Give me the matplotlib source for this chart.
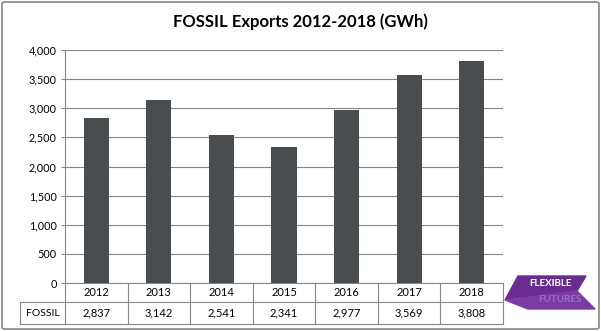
import numpy as np
import matplotlib
matplotlib.use("Agg")
import matplotlib.pyplot as plt
from matplotlib.patches import Polygon, FancyBboxPatch
import matplotlib.transforms as mtransforms

years = ['2012', '2013', '2014', '2015', '2016', '2017', '2018']
fossil = [2837, 3142, 2541, 2341, 2977, 3569, 3808]
series_name = 'FOSSIL'
yticks = [0, 500, 1000, 1500, 2000, 2500, 3000, 3500, 4000]

plt.rcParams['font.family'] = ['Lato', 'DejaVu Sans']

W, H = 601, 331
fig = plt.figure(figsize=(W / 100, H / 100), dpi=100)

# outer border
fig.patches.append(FancyBboxPatch((2 / W, 2 / H), 1 - 4 / W, 1 - 4 / H,
                                  boxstyle='round,pad=0,rounding_size=0.005',
                                  transform=fig.transFigure, fill=False,
                                  edgecolor='#868686', lw=1.2))

left, right, top, bottom = 65, 503, 50, 283
ax = fig.add_axes([left / W, 1 - bottom / H, (right - left) / W, (bottom - top) / H])

x = np.arange(len(years))
ax.bar(x, fossil, width=0.4, color='#4a4d50', zorder=3)
ax.set_xlim(-0.5, len(years) - 0.5)
ax.set_ylim(0, 4000)
ax.set_yticks(yticks)
ax.set_yticklabels(['{:,}'.format(v) for v in yticks], fontsize=7.8)
ax.set_xticks([])
ax.grid(axis='y', color='#868686', lw=0.8, zorder=0)
for s in ['top', 'right', 'bottom']:
    ax.spines[s].set_visible(False)
ax.spines['left'].set_color('#868686')
ax.tick_params(axis='y', length=3, color='#868686', pad=3)

fig.text(0.5, 1 - 22 / H, 'FOSSIL Exports 2012-2018 (GWh)', ha='center', va='center',
         fontsize=12, fontweight='bold')

# data table below the axes
ph = bottom - top
r1 = -19 / ph
r2 = -41 / ph
tl = (20 - left) / (right - left) * len(years) - 0.5
trans = mtransforms.blended_transform_factory(ax.transData, ax.transAxes)
lc = '#868686'
kw = dict(color=lc, lw=0.8, transform=trans, clip_on=False)
ax.plot([-0.5, len(years) - 0.5], [0, 0], **kw)
ax.plot([tl, len(years) - 0.5], [r1, r1], **kw)
ax.plot([tl, len(years) - 0.5], [r2, r2], **kw)
ax.plot([tl, tl], [r1, r2], **kw)
for b in np.arange(len(years) + 1) - 0.5:
    ax.plot([b, b], [0, r2], **kw)
for i, (yr, v) in enumerate(zip(years, fossil)):
    ax.text(i, r1 / 2, yr, ha='center', va='center', fontsize=8, transform=trans)
    ax.text(i, (r1 + r2) / 2, '{:,}'.format(v), ha='center', va='center', fontsize=8,
            transform=trans)
ax.text((tl - 0.5) / 2, (r1 + r2) / 2, series_name, ha='center', va='center', fontsize=7.5,
        transform=trans)

# logo
def px(pts):
    return [(a / W, 1 - b / H) for a, b in pts]

fig.patches.append(Polygon(px([(505, 300), (518, 276), (586, 276), (577, 291)]),
                           closed=True, transform=fig.transFigure, color='#6b2c91'))
fig.patches.append(Polygon(px([(505, 300), (577, 291), (595, 309), (528, 309)]),
                           closed=True, transform=fig.transFigure, color='#7a3ca3'))
fig.text(551 / W, 1 - 284 / H, 'FLEXIBLE', ha='center', va='center', color='white',
         fontsize=7, fontweight='bold')
fig.text(560 / W, 1 - 300 / H, 'FUTURES', ha='center', va='center', color='#9a6cc0',
         fontsize=7, fontweight='bold')

fig.savefig('out.png', dpi=100)
